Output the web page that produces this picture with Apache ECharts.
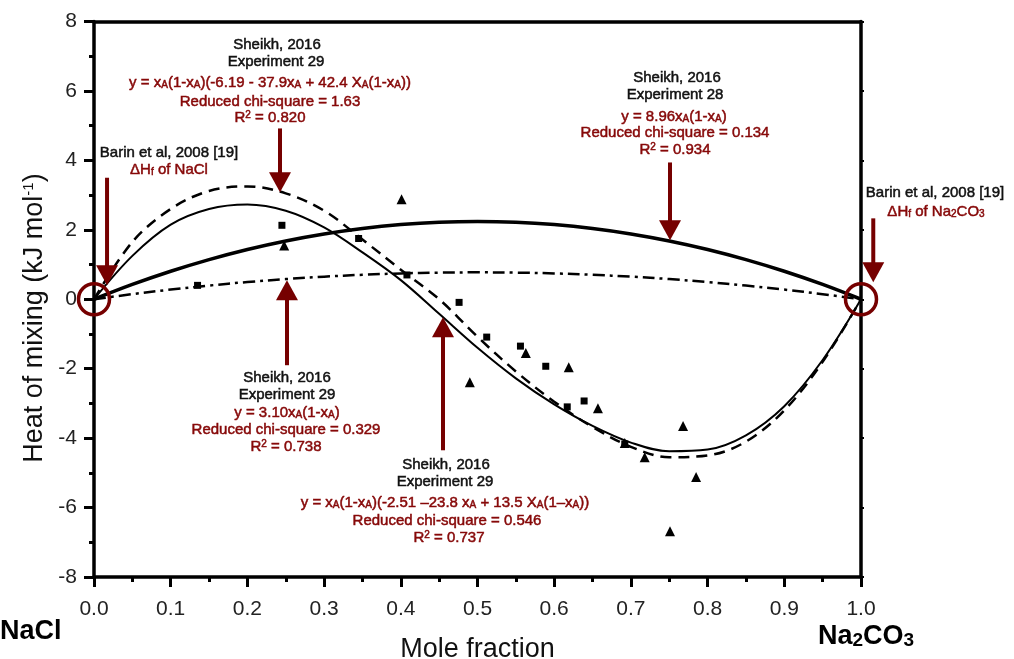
<!DOCTYPE html>
<html>
<head>
<meta charset="utf-8">
<script src="https://cdn.jsdelivr.net/npm/echarts/dist/echarts.min.js"></script>
<style>
  html, body { margin: 0; padding: 0; background: #fff; }
  #chart { width: 1014px; height: 659px; }
</style>
</head>
<body>
<div id="chart"></div>
<script>
// Measured heats of mixing, NaCl–Na2CO3 (mole fraction, kJ/mol)
const squares = [
  [0.135, 0.40], [0.245, 2.13], [0.345, 1.75], [0.408, 0.70], [0.476, -0.09],
  [0.512, -1.09], [0.556, -1.35], [0.589, -1.93], [0.617, -3.10], [0.639, -2.93],
  [0.692, -4.17]
];
const triangles = [
  [0.248, 1.55], [0.401, 2.88], [0.490, -2.39], [0.563, -1.55], [0.619, -1.96],
  [0.657, -3.14], [0.692, -4.14], [0.718, -4.55], [0.751, -6.68], [0.768, -3.65],
  [0.785, -5.12]
];

// Fitted curves
// Experiment 28: y = 8.96 xA(1-xA)
const fitExp28 = [
  [0, 0], [0.05, 0.426], [0.1, 0.806], [0.15, 1.142], [0.2, 1.434], [0.25, 1.680],
  [0.3, 1.882], [0.35, 2.038], [0.4, 2.150], [0.45, 2.218], [0.5, 2.240],
  [0.55, 2.218], [0.6, 2.150], [0.65, 2.038], [0.7, 1.882], [0.75, 1.680],
  [0.8, 1.434], [0.85, 1.142], [0.9, 0.806], [0.95, 0.426], [1, 0]
];
// Experiment 29: y = 3.10 xA(1-xA)
const fitExp29Reg = [
  [0, 0], [0.05, 0.147], [0.1, 0.279], [0.15, 0.395], [0.2, 0.496], [0.25, 0.581],
  [0.3, 0.651], [0.35, 0.705], [0.4, 0.744], [0.45, 0.767], [0.5, 0.775],
  [0.55, 0.767], [0.6, 0.744], [0.65, 0.705], [0.7, 0.651], [0.75, 0.581],
  [0.8, 0.496], [0.85, 0.395], [0.9, 0.279], [0.95, 0.147], [1, 0]
];
// Experiment 29, three-parameter fit (chi-square 1.63)
const fitExp29A = [
  [0, 0], [0.05, 1.65], [0.1, 2.60], [0.15, 3.12], [0.2, 3.25], [0.25, 3.05],
  [0.3, 2.55], [0.35, 1.72], [0.4, 0.85], [0.45, 0.00], [0.5, -1.08],
  [0.55, -2.08], [0.6, -2.95], [0.65, -3.68], [0.7, -4.25], [0.75, -4.55],
  [0.8, -4.50], [0.85, -4.10], [0.9, -3.20], [0.95, -1.80], [1, 0]
];
// Experiment 29, three-parameter fit (chi-square 0.546)
const fitExp29B = [
  [0, 0], [0.05, 1.25], [0.1, 2.15], [0.15, 2.60], [0.2, 2.73], [0.25, 2.55],
  [0.3, 2.07], [0.35, 1.35], [0.4, 0.55], [0.45, -0.42], [0.5, -1.40],
  [0.55, -2.28], [0.6, -3.03], [0.65, -3.65], [0.7, -4.13], [0.75, -4.38],
  [0.8, -4.33], [0.85, -3.92], [0.9, -3.08], [0.95, -1.75], [1, 0]
];

// Annotation arrows (x, start y, tip y) in data units
const arrows = [
  [0.2425, 4.92, 3.08],
  [0.017, 3.50, 0.40],
  [0.751, 3.94, 1.70],
  [1.016, 2.33, 0.49],
  [0.2516, -1.90, 0.55],
  [0.455, -4.35, -0.52]
];
// Pure-component reference points
const pureEnds = [[0, 0], [1, 0]];

const RED = '#860808';
const ARROW = '#760000';
const FONT = '"Liberation Sans", Arial, Helvetica, sans-serif';

const chart = echarts.init(document.getElementById('chart'), null, { renderer: 'canvas' });

const axisCommon = {
  type: 'value',
  axisLine: { show: true, onZero: false, lineStyle: { color: '#000', width: 3.5 } },
  splitLine: { show: false }
};

chart.setOption({
  backgroundColor: '#fff',
  animation: false,
  grid: { left: 94, right: 153, top: 21.5, bottom: 82, containLabel: false,
          outerBoundsMode: 'none' },
  xAxis: [
    Object.assign({}, axisCommon, {
      min: 0, max: 1, interval: 0.1, position: 'bottom',
      name: 'Mole fraction', nameLocation: 'middle', nameGap: 59,
      nameTextStyle: { fontFamily: FONT, fontSize: 27, color: '#111' },
      axisTick: { show: true, length: 10, lineStyle: { color: '#000', width: 3 } },
      minorTick: { show: true, splitNumber: 2, length: 5, lineStyle: { color: '#000', width: 3 } },
      axisLabel: { fontFamily: FONT, fontSize: 21, color: '#222', margin: 22,
        formatter: v => v.toFixed(1) }
    }),
    Object.assign({}, axisCommon, {
      min: 0, max: 1, interval: 0.1, position: 'top',
      axisTick: { show: false }, axisLabel: { show: false }
    })
  ],
  yAxis: [
    Object.assign({}, axisCommon, {
      min: -8, max: 8, interval: 2, position: 'left',
      axisTick: { show: true, length: 10, lineStyle: { color: '#000', width: 3 } },
      minorTick: { show: true, splitNumber: 2, length: 5, lineStyle: { color: '#000', width: 3 } },
      axisLabel: { fontFamily: FONT, fontSize: 21, color: '#222', margin: 17,
        formatter: v => String(v) }
    }),
    Object.assign({}, axisCommon, {
      min: -8, max: 8, interval: 2, position: 'right',
      axisTick: { show: true, length: 3, lineStyle: { color: '#000', width: 2 } },
      axisLabel: { show: false }
    })
  ],
  series: [
    { type: 'line', data: fitExp28, smooth: 0.35, showSymbol: false, z: 3,
      lineStyle: { color: '#000', width: 3.5 } },
    { type: 'line', data: fitExp29Reg, smooth: 0.35, showSymbol: false, z: 3,
      lineStyle: { color: '#000', width: 2.5, type: [12, 5, 3, 5] } },
    { type: 'line', data: fitExp29A, smooth: 0.35, showSymbol: false, z: 3,
      lineStyle: { color: '#000', width: 2.5, type: [11, 7] } },
    { type: 'line', data: fitExp29B, smooth: 0.35, showSymbol: false, z: 3,
      lineStyle: { color: '#000', width: 2 } },
    { type: 'scatter', data: squares, symbol: 'rect', symbolSize: 7, z: 4,
      itemStyle: { color: '#000', opacity: 1 } },
    { type: 'scatter', data: triangles, symbol: 'triangle', symbolSize: 10, z: 4,
      itemStyle: { color: '#000', opacity: 1 } },
    { type: 'scatter', data: pureEnds, symbol: 'circle', symbolSize: 31, z: 6, clip: false,
      itemStyle: { color: 'rgba(0,0,0,0)', borderColor: ARROW, borderWidth: 3.5, opacity: 1 } }
  ]
});

// ---- annotations ----
const subStyle = c => ({ fontFamily: FONT, fontSize: 10, fill: c, verticalAlign: 'bottom' });
const supStyle = c => ({ fontFamily: FONT, fontSize: 10, fill: c, verticalAlign: 'top' });

function label(x, y, text, color, size, weight) {
  return {
    type: 'text', x: x, y: y, z: 20,
    style: {
      text: text, fill: color, fontFamily: FONT, fontSize: size || 15,
      fontWeight: weight || 'normal', align: 'center', verticalAlign: 'middle',
      stroke: color, lineWidth: 0.5,
      rich: {
        n: { fontFamily: FONT, fontSize: size || 15, fill: color, fontWeight: weight || 'normal' },
        s: subStyle(color),
        p: supStyle(color)
      }
    }
  };
}

const xA = '{n|x}{s|A}';
const graphics = [
  // axis title (vertical)
  {
    type: 'text', x: 35, y: 318, rotation: Math.PI / 2, z: 20,
    style: { text: '{t|Heat of mixing (kJ mol}{u|-1}{t|)}', fill: '#111',
      align: 'center', verticalAlign: 'middle',
      rich: {
        t: { fontFamily: FONT, fontSize: 27, fill: '#111' },
        u: { fontFamily: FONT, fontSize: 15, fill: '#111', verticalAlign: 'top' }
      } }
  },
  // Experiment 29, chi-square 1.63
  label(277, 45, 'Sheikh, 2016', '#111'),
  label(276, 62, 'Experiment 29', '#111'),
  label(270, 83, '{n|y = }' + xA + '{n|(1-}' + xA + '{n|)(-6.19 - 37.9}' + xA +
        '{n| + 42.4 X}{s|A}{n|(1-}' + xA + '{n|))}', RED),
  label(270, 102, 'Reduced chi-square = 1.63', RED),
  label(270, 118, '{n|R}{p|2}{n| = 0.820}', RED),
  // NaCl reference
  label(169, 153, 'Barin et al, 2008 [19]', '#111'),
  label(169, 170, '{n|ΔH}{s|f}{n| of NaCl}', RED),
  // Experiment 28
  label(677, 78, 'Sheikh, 2016', '#111'),
  label(675, 95, 'Experiment 28', '#111'),
  label(674, 117, '{n|y = 8.96}' + xA + '{n|(1-}' + xA + '{n|)}', RED),
  label(675, 133, 'Reduced chi-square = 0.134', RED),
  label(675, 150, '{n|R}{p|2}{n| = 0.934}', RED),
  // Na2CO3 reference
  label(935, 193, 'Barin et al, 2008 [19]', '#111'),
  label(936, 212, '{n|ΔH}{s|f}{n| of Na}{s|2}{n|CO}{s|3}', RED),
  // Experiment 29, linear
  label(287, 378, 'Sheikh, 2016', '#111'),
  label(287, 395, 'Experiment 29', '#111'),
  label(287, 413, '{n|y = 3.10}' + xA + '{n|(1-}' + xA + '{n|)}', RED),
  label(286, 430, 'Reduced chi-square = 0.329', RED),
  label(286, 447, '{n|R}{p|2}{n| = 0.738}', RED),
  // Experiment 29, chi-square 0.546
  label(446, 465, 'Sheikh, 2016', '#111'),
  label(445, 482, 'Experiment 29', '#111'),
  label(445, 503, '{n|y = }' + xA + '{n|(1-}' + xA + '{n|)(-2.51 –23.8 }' + xA +
        '{n| + 13.5 X}{s|A}{n|(1–}' + xA + '{n|))}', RED),
  label(447, 521, 'Reduced chi-square = 0.546', RED),
  label(449, 538, '{n|R}{p|2}{n| = 0.737}', RED),
  // end-member names
  {
    type: 'text', x: 0, y: 632, z: 20,
    style: { text: 'NaCl', fill: '#000', fontFamily: FONT, fontSize: 27, fontWeight: 'bold',
      align: 'left', verticalAlign: 'middle' }
  },
  {
    type: 'text', x: 818, y: 637, z: 20,
    style: { text: '{b|Na}{bs|2}{b|CO}{bs|3}', fill: '#000', fontFamily: FONT,
      align: 'left', verticalAlign: 'middle',
      rich: {
        b: { fontFamily: FONT, fontSize: 27, fontWeight: 'bold', fill: '#000' },
        bs: { fontFamily: FONT, fontSize: 19, fontWeight: 'bold', fill: '#000', verticalAlign: 'bottom' }
      } }
  }
];

// arrows drawn through the axis scales
arrows.forEach(a => {
  const p1 = chart.convertToPixel({ gridIndex: 0 }, [a[0], a[1]]);
  const p2 = chart.convertToPixel({ gridIndex: 0 }, [a[0], a[2]]);
  const dir = p2[1] > p1[1] ? 1 : -1;
  const headH = 20, headW = 11;
  graphics.push({
    type: 'line', z: 15,
    shape: { x1: p1[0], y1: p1[1], x2: p2[0], y2: p2[1] - dir * (headH - 2) },
    style: { stroke: ARROW, lineWidth: 4 }
  });
  graphics.push({
    type: 'polygon', z: 15,
    shape: { points: [[p2[0], p2[1]], [p2[0] - headW, p2[1] - dir * headH], [p2[0] + headW, p2[1] - dir * headH]] },
    style: { fill: ARROW }
  });
});

chart.setOption({ graphic: graphics });
</script>
</body>
</html>
